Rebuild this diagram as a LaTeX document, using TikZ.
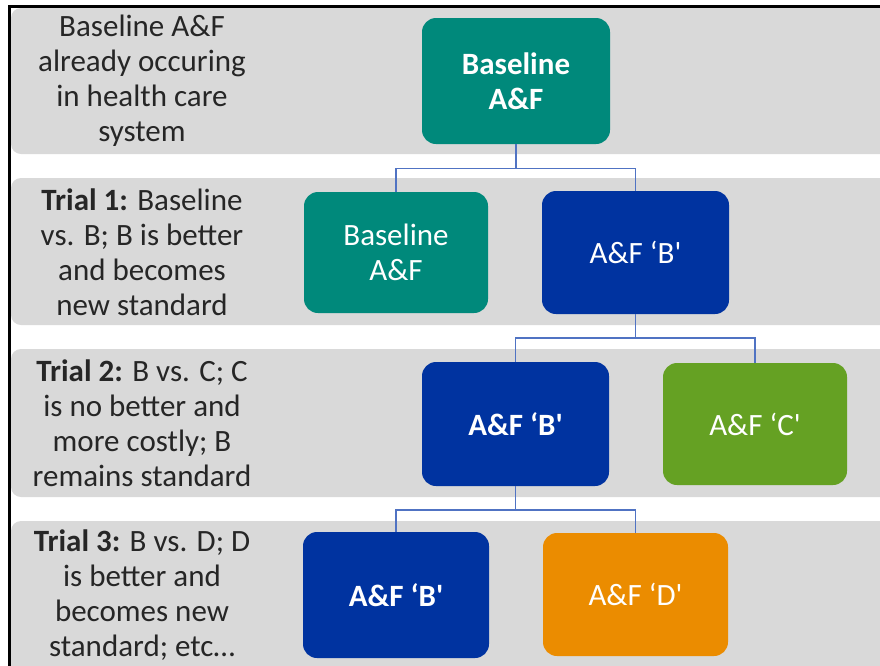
\documentclass[tikz,border=0pt]{standalone}
\usepackage{fontspec}
\setmainfont{Carlito}
\definecolor{bandgray}{RGB}{217,217,217}
\definecolor{afteal}{RGB}{0,137,123}
\definecolor{afblue}{RGB}{0,51,160}
\definecolor{afgreen}{RGB}{101,161,35}
\definecolor{aforange}{RGB}{235,140,0}
\definecolor{linkblue}{RGB}{80,115,195}
\definecolor{labeltext}{RGB}{38,38,38}
\begin{document}
\begin{tikzpicture}[x=1pt,y=-1pt,
  box/.style={rounded corners=14pt, text=white, align=center, inner sep=0pt,
    font=\fontsize{31}{35}\selectfont},
  lbl/.style={align=center, text=labeltext, inner sep=0pt,
    font=\fontsize{31}{35}\selectfont},
  band/.style={fill=bandgray, rounded corners=10pt},
  conn/.style={draw=linkblue, line width=1.4pt}]
\useasboundingbox (0,0) rectangle (880,665);
\clip (0,0) rectangle (880,665);
% bands
\fill[band] (11,8) rectangle (910,154);
\fill[band] (11,178) rectangle (910,325);
\fill[band] (11,349) rectangle (910,497);
\fill[band] (11,521) rectangle (910,700);
% frame
\draw[line width=3pt] (9.5,700) -- (9.5,6.5) -- (900,6.5);
% labels
\node[lbl] (l0) at (142,81) {Baseline A\&F\\already occuring\\in health care\\system};
\node[lbl] (l1) at (142,252) {\textbf{Trial 1:} Baseline\\vs. B; B is better\\and becomes\\new standard};
\node[lbl] (l2) at (142,423) {\textbf{Trial 2:} B vs. C; C\\is no better and\\more costly; B\\remains standard};
\node[lbl] (l3) at (142,595) {\textbf{Trial 3:} B vs. D; D\\is better and\\becomes new\\standard; etc\ldots};
% boxes
\node[box, fill=afteal, minimum width=188pt, minimum height=126pt, font=\fontsize{31}{35}\selectfont\bfseries] (top) at (516,81) {Baseline\\A\&F};
\node[box, fill=afteal, minimum width=184pt, minimum height=121pt] (t1a) at (396,252.5) {Baseline\\A\&F};
\node[box, fill=afblue, minimum width=187pt, minimum height=123pt] (t1b) at (635.5,252.5) {A\&F ‘B\textquotesingle};
\node[box, fill=afblue, minimum width=187pt, minimum height=124pt, font=\fontsize{31}{35}\selectfont\bfseries] (t2b) at (515.5,424) {A\&F ‘B\textquotesingle};
\node[box, fill=afgreen, minimum width=184pt, minimum height=122pt] (t2c) at (755,424) {A\&F ‘C\textquotesingle};
\node[box, fill=afblue, minimum width=186pt, minimum height=126pt, font=\fontsize{31}{35}\selectfont\bfseries] (t3b) at (396,595) {A\&F ‘B\textquotesingle};
\node[box, fill=aforange, minimum width=185pt, minimum height=123pt] (t3d) at (635.5,594.5) {A\&F ‘D\textquotesingle};
% connectors
\coordinate (j1) at (516,168.5);
\coordinate (j2) at (635.5,338);
\coordinate (j3) at (515.5,510);
\draw[conn] (top.south) -- (j1);
\draw[conn] (j1) -| (t1a.north);
\draw[conn] (j1) -| (t1b.north);
\draw[conn] (t1b.south) -- (j2);
\draw[conn] (j2) -| (t2b.north);
\draw[conn] (j2) -| (t2c.north);
\draw[conn] (t2b.south) -- (j3);
\draw[conn] (j3) -| (t3b.north);
\draw[conn] (j3) -| (t3d.north);
\end{tikzpicture}
\end{document}
